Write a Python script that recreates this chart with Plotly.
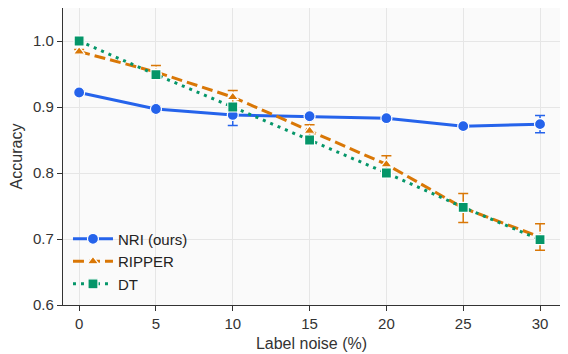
import plotly.graph_objects as go

noise = [0, 5, 10, 15, 20, 25, 30]
nri = [0.922, 0.897, 0.888, 0.886, 0.883, 0.871, 0.874]
nri_err = [0.003, 0.004, 0.016, 0.003, 0.003, 0.003, 0.013]
ripper = [0.984, 0.953, 0.915, 0.864, 0.813, 0.747, 0.703]
ripper_err = [0.003, 0.010, 0.010, 0.009, 0.013, 0.022, 0.020]
dt = [1.0, 0.949, 0.900, 0.850, 0.800, 0.748, 0.699]
dt_err = [0.002, 0.003, 0.004, 0.003, 0.004, 0.006, 0.003]

series = [
    ("NRI (ours)", nri, nri_err, "#2563eb", "solid", "circle", 11),
    ("RIPPER", ripper, ripper_err, "#d97706", "11px,5px", "triangle-up", 10),
    ("DT", dt, dt_err, "#059669", "3px,5px", "square", 10),
]

fig = go.Figure()
for name, y, err, color, dash, sym, size in series:
    fig.add_trace(go.Scatter(
        x=noise, y=y, name=name, mode="lines+markers",
        line=dict(color=color, width=3, dash=dash),
        marker=dict(symbol=sym, size=size, color=color, line=dict(color="white", width=1.2)),
        error_y=dict(type="data", array=err, visible=True, color=color, thickness=1.5, width=5),
    ))

fig.update_layout(
    width=568, height=354,
    margin=dict(l=63, r=8, t=8, b=49),
    paper_bgcolor="white", plot_bgcolor="#fafafa",
    font=dict(family="Liberation Sans, Arial, sans-serif", size=15, color="#333"),
    legend=dict(x=0.01, y=0.015, xanchor="left", yanchor="bottom", bgcolor="rgba(0,0,0,0)",
                font=dict(size=15, color="#222"), tracegroupgap=0, itemwidth=40),
    showlegend=True,
)
fig.update_xaxes(
    range=[-1.05, 31.3], tickvals=noise, ticktext=[str(v) for v in noise],
    showgrid=True, gridcolor="#e6e6e6", gridwidth=1, zeroline=False,
    showline=True, linecolor="#333", linewidth=1.2, ticks="outside", ticklen=5, tickcolor="#333",
    tickfont=dict(size=15),
    title=dict(text="Label noise (%)", font=dict(size=16, color="#333"), standoff=6),
    automargin=False,
)
fig.update_yaxes(
    range=[0.6, 1.05], tickvals=[0.6, 0.7, 0.8, 0.9, 1.0], tickformat=".1f",
    showgrid=True, gridcolor="#e6e6e6", gridwidth=1, zeroline=False,
    showline=True, linecolor="#333", linewidth=1.2, ticks="outside", ticklen=5, tickcolor="#333",
    tickfont=dict(size=15),
    title=dict(text="Accuracy", font=dict(size=16, color="#333"), standoff=6),
    automargin=False,
)
fig.write_html("out.html", config={"displayModeBar": False},
               post_script="document.body.style.margin='0';document.body.style.overflow='hidden';")
